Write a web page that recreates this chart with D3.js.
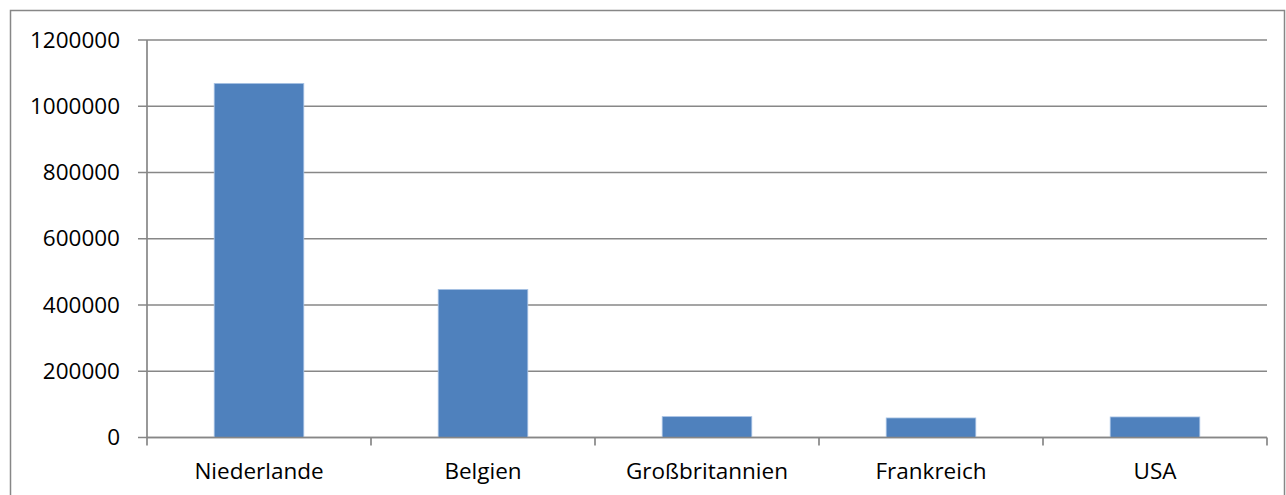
<!DOCTYPE html>
<html>
<head>
<meta charset="utf-8">
<script src="https://cdn.jsdelivr.net/npm/d3@7"></script>
<style>
  html, body { margin: 0; padding: 0; background: #fff; }
  svg { display: block; }
  text { font-family: "Open Sans", "Noto Sans", sans-serif; fill: #000; }
</style>
</head>
<body>
<svg id="chart" width="1286" height="495"></svg>
<script>
// Countries and their values
const categories = ["Niederlande", "Belgien", "Großbritannien", "Frankreich", "USA"];
const values = [1069000, 447000, 63000, 59000, 62000];
const yTicks = [0, 200000, 400000, 600000, 800000, 1000000, 1200000];

const svg = d3.select("#chart");
const plot = { left: 147, right: 1267, top: 40, bottom: 437.5 };
const gridColor = "#878787";
const fontSize = "22.5px";

// Outer frame
svg.append("rect")
  .attr("x", 10.5).attr("y", 10.5)
  .attr("width", 1274).attr("height", 494)
  .attr("fill", "none").attr("stroke", gridColor).attr("stroke-width", 1.5);

const x = d3.scaleBand()
  .domain(categories)
  .range([plot.left, plot.right])
  .paddingInner(0.6)
  .paddingOuter(0.3);

const y = d3.scaleLinear()
  .domain([0, 1200000])
  .range([plot.bottom, plot.top]);

// Horizontal gridlines (with ticks extending left of the axis)
svg.append("g")
  .selectAll("line")
  .data(yTicks)
  .join("line")
  .attr("x1", plot.left - 9).attr("x2", plot.right)
  .attr("y1", d => y(d)).attr("y2", d => y(d))
  .attr("stroke", gridColor).attr("stroke-width", 1.7);

// Y axis labels
const yAxis = d3.axisLeft(y).tickValues(yTicks).tickFormat(d3.format("d")).tickSize(0).tickPadding(27);
const gy = svg.append("g").attr("transform", `translate(${plot.left},0)`).call(yAxis);
gy.select(".domain").remove();
gy.selectAll("text")
  .style("font-family", '"Open Sans", "Noto Sans", sans-serif')
  .style("font-size", fontSize)
  .attr("fill", "#000");

// Vertical axis line
svg.append("line")
  .attr("x1", plot.left).attr("x2", plot.left)
  .attr("y1", plot.top).attr("y2", plot.bottom)
  .attr("stroke", gridColor).attr("stroke-width", 1.7);

// Bars
svg.append("g")
  .selectAll("rect")
  .data(categories.map((c, i) => ({ c, v: values[i] })))
  .join("rect")
  .attr("x", d => x(d.c))
  .attr("width", x.bandwidth())
  .attr("y", d => y(d.v))
  .attr("height", d => y(0) - y(d.v))
  .attr("fill", "#4F81BD")
  .attr("stroke", "#A9C3E4")
  .attr("stroke-width", 0.8);

// X axis baseline and boundary ticks
svg.append("line")
  .attr("x1", plot.left).attr("x2", plot.right)
  .attr("y1", y(0)).attr("y2", y(0))
  .attr("stroke", gridColor).attr("stroke-width", 1.7);

const boundaries = d3.range(categories.length + 1).map(i => plot.left + i * x.step());
svg.append("g")
  .selectAll("line")
  .data(boundaries)
  .join("line")
  .attr("x1", d => d).attr("x2", d => d)
  .attr("y1", y(0)).attr("y2", y(0) + 8)
  .attr("stroke", gridColor).attr("stroke-width", 1.7);

// Category labels
svg.append("g")
  .selectAll("text")
  .data(categories)
  .join("text")
  .attr("x", d => x(d) + x.bandwidth() / 2)
  .attr("y", 479)
  .attr("text-anchor", "middle")
  .style("font-size", fontSize)
  .text(d => d);
</script>
</body>
</html>
